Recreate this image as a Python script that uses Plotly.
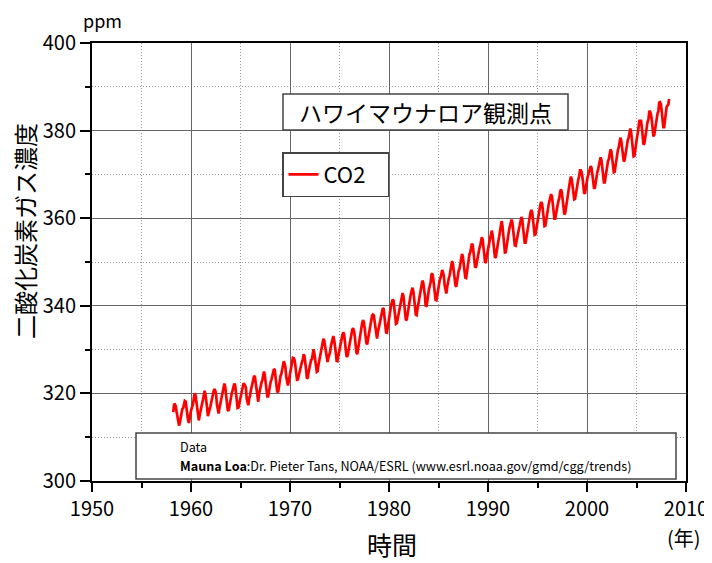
import plotly.graph_objects as go

# Monthly CO2 at Mauna Loa (ppm), March 1958 - April 2008
start_year = 1958
start_month = 3

co2_1958_1959 = [
    315.71, 317.45, 317.50, 317.10, 315.86, 314.93, 313.20, 312.66, 313.33, 314.67,
    315.58, 316.48, 316.65, 317.72, 318.29, 318.15, 316.54, 314.80, 313.84, 313.26, 314.80, 315.58,
]
co2_1960s = [
    316.43, 316.97, 317.58, 319.02, 320.03, 319.59, 318.18, 315.91, 314.16, 313.83, 315.00, 316.19,
    316.93, 317.70, 318.54, 319.48, 320.58, 319.77, 318.57, 316.79, 314.80, 315.38, 316.10, 317.01,
    317.94, 318.56, 319.68, 320.63, 321.01, 320.55, 319.58, 317.40, 316.26, 315.42, 316.69, 317.69,
    318.74, 319.08, 319.86, 321.39, 322.25, 321.47, 319.74, 317.77, 316.21, 315.99, 317.12, 318.31,
    319.57, 320.07, 320.73, 321.77, 322.25, 321.89, 320.44, 318.70, 316.70, 316.79, 317.79, 318.71,
    319.44, 320.44, 320.89, 322.13, 322.16, 321.87, 321.39, 318.81, 317.81, 317.30, 318.87, 319.42,
    320.62, 321.59, 322.39, 323.87, 324.01, 323.75, 322.39, 320.37, 318.64, 318.10, 319.79, 321.08,
    322.07, 322.50, 323.04, 324.42, 325.00, 324.09, 322.55, 320.92, 319.31, 319.31, 320.72, 321.96,
    322.57, 323.15, 323.89, 325.02, 325.57, 325.36, 324.14, 322.03, 320.41, 320.25, 321.31, 322.84,
    324.00, 324.42, 325.64, 326.66, 327.34, 326.76, 325.88, 323.67, 322.38, 321.78, 322.85, 324.11,
]
co2_1970s = [
    325.03, 325.99, 326.87, 328.13, 328.07, 327.66, 326.35, 324.69, 323.10, 323.16, 323.98, 325.13,
    326.17, 326.68, 327.18, 327.78, 328.92, 328.57, 327.34, 325.46, 323.36, 323.57, 324.80, 326.01,
    326.77, 327.63, 327.75, 329.72, 330.07, 329.09, 328.05, 326.32, 324.93, 325.06, 326.50, 327.55,
    328.54, 329.56, 330.30, 331.50, 332.48, 332.07, 330.87, 329.31, 327.51, 327.18, 328.16, 328.64,
    329.35, 330.71, 331.48, 332.65, 333.09, 332.25, 331.18, 329.40, 327.44, 327.37, 328.46, 329.58,
    330.40, 331.41, 332.04, 333.31, 333.96, 333.59, 331.91, 330.06, 328.56, 328.34, 329.49, 330.76,
    331.75, 332.56, 333.50, 334.58, 334.87, 334.34, 333.05, 330.94, 329.30, 328.94, 330.31, 331.68,
    332.93, 333.42, 334.70, 336.07, 336.74, 336.27, 334.93, 332.75, 331.58, 331.16, 332.40, 333.85,
    334.97, 335.39, 336.64, 337.76, 338.01, 337.89, 336.54, 334.68, 332.76, 332.54, 333.92, 334.95,
    336.23, 336.76, 337.96, 338.89, 339.47, 339.29, 337.73, 336.09, 333.91, 333.86, 335.29, 336.73,
]
co2_1980s = [
    338.01, 338.36, 340.08, 340.77, 341.46, 341.17, 339.56, 337.60, 335.88, 336.01, 337.10, 338.21,
    339.23, 340.47, 341.38, 342.51, 342.91, 342.25, 340.49, 338.43, 336.69, 336.85, 338.36, 339.61,
    340.75, 341.61, 342.70, 343.56, 344.13, 343.35, 342.06, 339.82, 337.97, 337.86, 339.26, 340.49,
    341.38, 342.52, 343.10, 344.94, 345.75, 345.32, 343.99, 342.39, 339.86, 339.99, 341.16, 342.99,
    343.82, 344.63, 345.38, 347.19, 347.36, 346.40, 344.83, 343.04, 341.35, 341.26, 342.52, 344.03,
    344.91, 345.86, 346.42, 347.71, 348.17, 347.65, 346.71, 344.69, 343.09, 342.80, 344.24, 345.56,
    346.29, 346.96, 347.86, 349.55, 350.21, 349.53, 347.92, 345.88, 344.79, 344.32, 345.67, 346.88,
    348.02, 348.47, 349.41, 350.97, 351.84, 351.25, 349.51, 348.08, 346.45, 346.36, 347.81, 348.96,
    350.43, 351.73, 352.22, 353.59, 354.22, 353.79, 352.38, 350.43, 348.73, 348.88, 350.07, 351.34,
    352.76, 353.07, 353.68, 355.42, 355.67, 355.13, 353.90, 351.67, 349.80, 349.99, 351.30, 352.53,
]
co2_1990s = [
    353.66, 354.70, 355.39, 356.20, 357.16, 356.22, 354.82, 352.91, 350.96, 351.18, 352.83, 354.21,
    354.72, 355.75, 357.16, 358.60, 359.34, 358.24, 356.17, 354.02, 352.15, 352.21, 353.75, 354.99,
    356.54, 357.25, 358.09, 359.22, 359.68, 359.06, 357.56, 355.49, 353.80, 353.70, 354.93, 356.16,
    357.00, 357.60, 358.40, 359.60, 360.30, 359.70, 358.10, 356.10, 354.40, 354.40, 355.70, 357.00,
    358.30, 359.20, 360.10, 361.30, 361.90, 361.40, 359.80, 357.80, 356.20, 356.30, 357.60, 359.00,
    360.30, 361.10, 361.90, 363.10, 363.70, 363.30, 361.90, 359.60, 358.20, 358.30, 359.70, 361.00,
    362.20, 363.10, 364.00, 364.90, 365.50, 365.00, 363.60, 361.50, 359.90, 359.90, 361.40, 362.60,
    363.10, 364.00, 364.70, 366.10, 366.60, 365.90, 364.60, 362.60, 360.90, 361.10, 362.60, 364.10,
    365.40, 366.10, 367.40, 368.60, 369.50, 368.90, 367.70, 365.90, 364.30, 364.40, 365.60, 367.20,
    368.20, 368.90, 369.60, 370.90, 370.90, 370.50, 369.30, 367.30, 365.80, 365.60, 367.00, 368.30,
]
co2_2000s = [
    369.20, 369.90, 370.60, 371.80, 371.90, 371.50, 370.20, 368.50, 366.90, 366.90, 368.30, 369.70,
    370.50, 371.20, 372.10, 373.20, 373.90, 373.30, 371.60, 369.60, 368.20, 368.20, 369.70, 371.10,
    372.40, 373.10, 373.50, 374.90, 375.70, 375.30, 374.00, 371.80, 370.50, 370.60, 372.10, 373.70,
    374.90, 375.60, 376.20, 377.60, 378.40, 377.70, 376.30, 374.40, 373.00, 373.20, 374.50, 375.90,
    377.00, 377.90, 378.40, 380.00, 380.50, 379.60, 377.90, 375.90, 374.10, 374.20, 375.90, 377.30,
    378.30, 379.40, 380.50, 382.20, 382.20, 382.20, 380.70, 378.60, 376.80, 377.00, 378.40, 380.00,
    381.40, 382.10, 382.50, 384.50, 384.30, 383.70, 382.50, 380.40, 378.70, 379.00, 380.50, 382.10,
    382.90, 383.90, 384.40, 386.40, 386.50, 386.10, 384.50, 381.90, 380.80, 380.80, 382.60, 383.70,
    385.40, 385.70, 385.90, 387.20,
]

co2 = co2_1958_1959 + co2_1960s + co2_1970s + co2_1980s + co2_1990s + co2_2000s
x_years = [start_year + (start_month - 1 + i + 0.5) / 12 for i in range(len(co2))]

x_ticks = [1950, 1960, 1970, 1980, 1990, 2000, 2010]
y_ticks = [300, 320, 340, 360, 380, 400]

FONT = "Noto Sans CJK JP"

fig = go.Figure()
fig.add_trace(go.Scatter(
    x=x_years, y=co2, mode="lines", name="CO2",
    line=dict(color="#ff0000", width=2.7),
))

# The page body adds an 8px offset; plot area in page pixels: x 92..686, y 43..481
W, H = 712, 563
OFF = 8
PL, PR, PT, PB = 92, 686, 43, 481
pw, ph = PR - PL, PB - PT


def px(x):
    return (x - PL) / pw


def py(y):
    return (PB - y) / ph


def note(text, x, y, size, **kw):
    d = dict(text=text, xref="paper", yref="paper", x=px(x), y=py(y),
             xanchor="center", yanchor="middle", showarrow=False,
             font=dict(size=size, family=FONT, color="black"))
    d.update(kw)
    return d


fig.update_layout(
    width=W, height=H,
    margin=dict(l=PL - OFF, r=W + OFF - PR, t=PT - OFF, b=H + OFF - PB, pad=0, autoexpand=False),
    plot_bgcolor="white", paper_bgcolor="white",
    font=dict(family=FONT, color="black"),
    showlegend=True,
    legend=dict(
        orientation="h",
        x=px(282), y=py(152), xanchor="left", yanchor="top",
        bordercolor="#444", borderwidth=1.5, bgcolor="white",
        font=dict(size=22, family=FONT, color="black"),
        itemwidth=30, tracegroupgap=0,
        entrywidth=59, entrywidthmode="pixels",
    ),
    xaxis=dict(
        range=[1950, 2010], tickvals=x_ticks, ticktext=[str(v) for v in x_ticks],
        showgrid=True, gridcolor="#666", gridwidth=1,
        minor=dict(dtick=5, tick0=1950, showgrid=True, gridcolor="#999", griddash="1px,2px",
                   ticks="outside", ticklen=5, tickcolor="black", tickwidth=1.5),
        ticks="outside", ticklen=9, tickwidth=1.5, tickcolor="black",
        showline=True, linewidth=2, linecolor="black", mirror=True,
        zeroline=False, tickfont=dict(size=20, family=FONT),
    ),
    yaxis=dict(
        range=[300, 400], tickvals=y_ticks, ticktext=[str(v) for v in y_ticks],
        showgrid=True, gridcolor="#666", gridwidth=1,
        minor=dict(dtick=10, tick0=300, showgrid=True, gridcolor="#999", griddash="1px,2px",
                   ticks="outside", ticklen=5, tickcolor="black", tickwidth=1.5),
        ticks="outside", ticklen=10, tickwidth=1.5, tickcolor="black",
        showline=True, linewidth=2, linecolor="black", mirror=True,
        zeroline=False, tickfont=dict(size=20, family=FONT),
    ),
    shapes=[
        dict(type="rect", xref="paper", yref="paper",
             x0=px(283), x1=px(568), y0=py(130), y1=py(94),
             line=dict(color="#444", width=1.5), fillcolor="white", layer="above"),
        dict(type="rect", xref="paper", yref="paper",
             x0=px(136), x1=px(676), y0=py(479), y1=py(433),
             line=dict(color="#444", width=1.5), fillcolor="white", layer="above"),
    ],
    annotations=[
        note("ハワイマウナロア観測点", 425.5, 112, 23),
        note("Data", 178, 446.7, 12.6, xanchor="left"),
        note("<b>Mauna Loa</b>:Dr. Pieter Tans, NOAA/ESRL (www.esrl.noaa.gov/gmd/cgg/trends)",
             178, 465.7, 12.6, xanchor="left"),
        note("ppm", 102, 20, 18),
        note("二酸化炭素ガス濃度", 24, 231, 24, textangle=-90),
        note("時間", 392, 544, 25),
        note("(年)", 684, 537, 20),
    ],
)

fig.write_html("out.html")
